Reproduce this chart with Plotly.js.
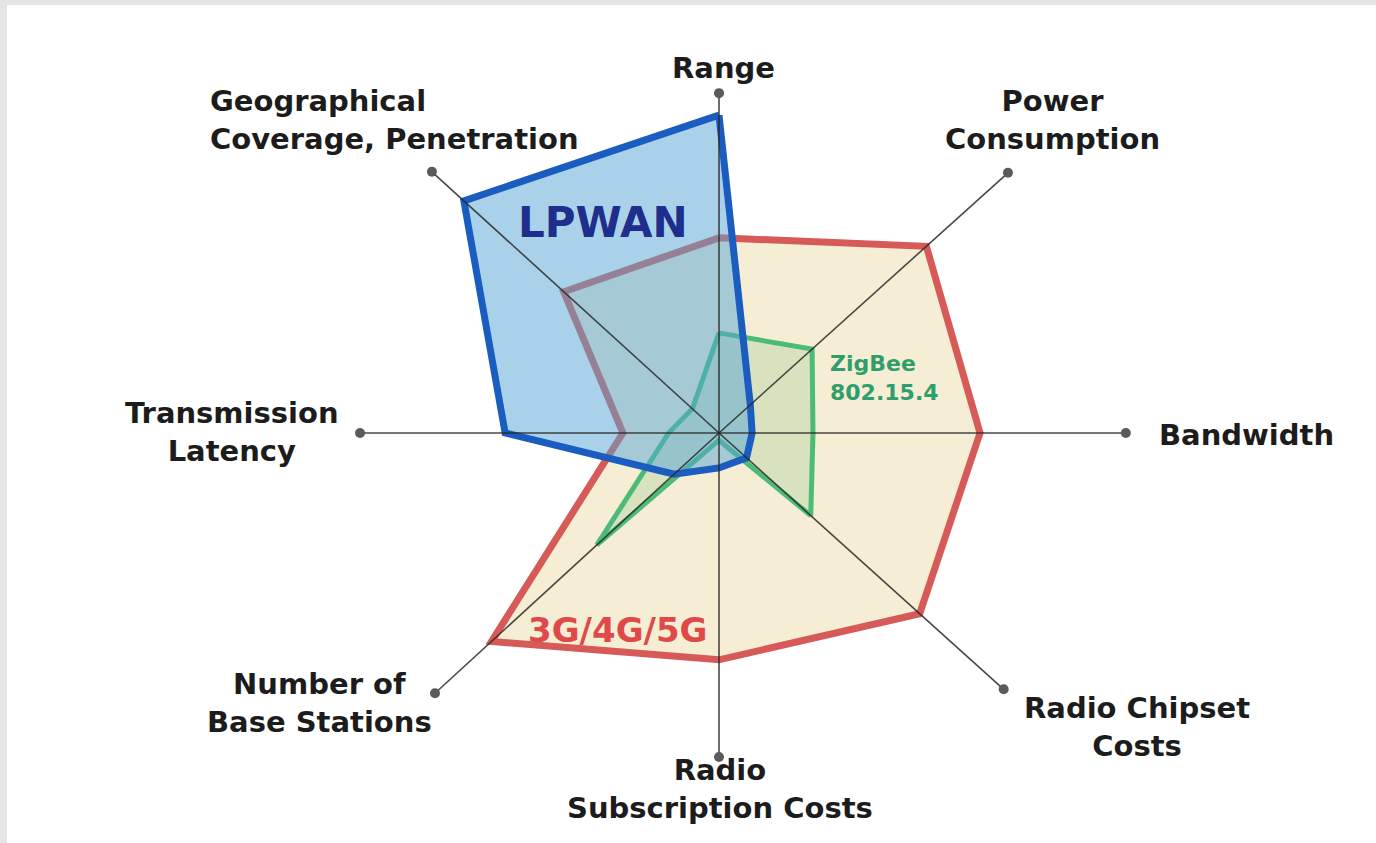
<!DOCTYPE html>
<html>
<head>
<meta charset="utf-8">
<script src="https://cdn.plot.ly/plotly-3.0.1.min.js"></script>
<style>
  html, body { margin: 0; padding: 0; background: #e5e5e5; width: 1376px; height: 843px; overflow: hidden; }
  #chart { position: absolute; left: 7px; top: 5px; width: 1369px; height: 838px; background: #ffffff; }
</style>
</head>
<body>
<div id="chart"></div>
<script>
// ---- data ----
const categories = ['Range', 'Power Consumption', 'Bandwidth', 'Radio Chipset Costs',
  'Radio Subscription Costs', 'Number of Base Stations', 'Transmission Latency',
  'Geographical Coverage, Penetration'];
const axisAngle = [90, 42, 0, -42, -90, -137.5, 180, 137.7];
const axisLength = [94.4, 108, 113, 106.4, 90, 107, 99.7, 107.8];
const lpwan = [88.3, 11.7, 9.2, 10.3, 9.7, 16.9, 59.4, 95.8];
const cellular = [54.2, 77.5, 72.5, 75, 63, 85.7, 26.7, 58.3];
const zigbee = [27.8, 34.8, 26.1, 34.3, 2, 46, 14, 10];
const seriesNames = ['LPWAN', '3G/4G/5G', 'ZigBee<br>802.15.4'];
const axisLabels = ['Range', 'Power<br>Consumption', 'Bandwidth', 'Radio Chipset<br>Costs',
  'Radio<br>Subscription Costs', 'Number of<br>Base Stations', 'Transmission<br>Latency',
  'Geographical<br>Coverage, Penetration'];

// ---- layout helpers (div is 1369x838, offset 7,5 on page) ----
const W = 1369, H = 838, OX = 7, OY = 5;
const px = X => (X - OX) / W;
const py = Y => 1 - (Y - OY) / H;
const FONT = 'DejaVu Sans';

function closed(a) { return a.concat([a[0]]); }

const thetaClosed = closed(axisAngle);

const traces = [];
// 3G/4G/5G
traces.push({
  type: 'scatterpolar', mode: 'lines', name: seriesNames[1],
  r: closed(cellular), theta: thetaClosed, fill: 'toself',
  fillcolor: 'rgb(246,238,212)', line: { color: '#d65a57', width: 7 },
  hoverinfo: 'skip'
});
// ZigBee
traces.push({
  type: 'scatterpolar', mode: 'lines', name: 'ZigBee 802.15.4',
  r: closed(zigbee), theta: thetaClosed, fill: 'toself',
  fillcolor: 'rgba(110,185,120,0.22)', line: { color: '#4cbb78', width: 5 },
  hoverinfo: 'skip'
});
// LPWAN
traces.push({
  type: 'scatterpolar', mode: 'lines', name: seriesNames[0],
  r: closed(lpwan), theta: thetaClosed, fill: 'toself',
  fillcolor: 'rgba(84,165,214,0.5)', line: { color: '#1a5cc0', width: 7 },
  hoverinfo: 'skip'
});
// spokes
const spokeR = [], spokeT = [];
for (let i = 0; i < axisAngle.length; i++) {
  spokeR.push(0, axisLength[i], null);
  spokeT.push(axisAngle[i], axisAngle[i], null);
}
traces.push({
  type: 'scatterpolar', mode: 'lines', r: spokeR, theta: spokeT,
  line: { color: 'rgba(40,40,40,0.85)', width: 1.6 }, hoverinfo: 'skip', connectgaps: false
});
// end dots
traces.push({
  type: 'scatterpolar', mode: 'markers', r: axisLength, theta: axisAngle,
  text: categories, marker: { color: '#5a5a5a', size: 10 }, hoverinfo: 'text'
});

const R = 409;
const cx = 719 - OX, cy = 433 - OY;
const polarDomain = {
  x: [(cx - R) / W, (cx + R) / W],
  y: [1 - (cy + R) / H, 1 - (cy - R) / H]
};

const labelFont = { family: FONT, size: 29, color: '#1c1c1c', weight: 700 };
const labelPos = [
  { x: 723, y: 68, xa: 'center', al: 'center' },
  { x: 1052, y: 120, xa: 'center', al: 'center' },
  { x: 1157, y: 435, xa: 'left', al: 'left' },
  { x: 1137, y: 727, xa: 'center', al: 'center' },
  { x: 720, y: 789, xa: 'center', al: 'center' },
  { x: 319, y: 703, xa: 'center', al: 'center' },
  { x: 232, y: 432, xa: 'center', al: 'center' },
  { x: 208, y: 120, xa: 'left', al: 'left' }
];
const annotations = axisLabels.map((t, i) => ({
  xref: 'paper', yref: 'paper', x: px(labelPos[i].x), y: py(labelPos[i].y),
  xanchor: labelPos[i].xa, yanchor: 'middle', align: labelPos[i].al,
  text: t, showarrow: false, font: labelFont
}));
annotations.push({
  xref: 'paper', yref: 'paper', x: px(603), y: py(222), xanchor: 'center', yanchor: 'middle',
  text: seriesNames[0], showarrow: false,
  font: { family: FONT, size: 42, color: '#1f2d8c', weight: 700 }
});
annotations.push({
  xref: 'paper', yref: 'paper', x: px(618), y: py(630), xanchor: 'center', yanchor: 'middle',
  text: seriesNames[1], showarrow: false,
  font: { family: FONT, size: 34, color: '#e0494a', weight: 700 }
});
annotations.push({
  xref: 'paper', yref: 'paper', x: px(828), y: py(378), xanchor: 'left', yanchor: 'middle',
  align: 'left', text: seriesNames[2], showarrow: false,
  font: { family: FONT, size: 22, color: '#2f9e6c', weight: 700 }
});

const layout = {
  width: W, height: H,
  margin: { l: 0, r: 0, t: 0, b: 0, pad: 0 },
  paper_bgcolor: '#ffffff',
  showlegend: false,
  polar: {
    domain: polarDomain,
    bgcolor: 'rgba(0,0,0,0)',
    radialaxis: { visible: false, range: [0, 113.6] },
    angularaxis: { visible: false, direction: 'counterclockwise', rotation: 0 }
  },
  annotations: annotations
};

Plotly.newPlot('chart', traces, layout, { displayModeBar: false, staticPlot: true });
</script>
</body>
</html>
